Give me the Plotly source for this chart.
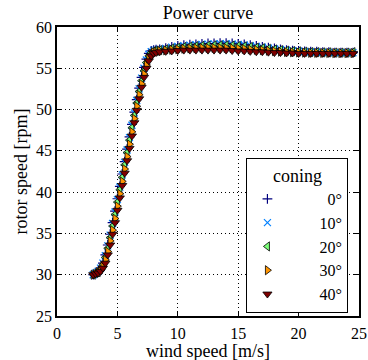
import plotly.graph_objects as go

# Wind speeds [m/s] of the operating points
wind = [3.0, 3.2, 3.4, 3.6, 3.8, 4.0, 4.2, 4.4, 4.6, 4.8, 5.0, 5.2, 5.4, 5.6, 5.8,
        6.0, 6.2, 6.4, 6.6, 6.8, 7.0, 7.2, 7.4, 7.6, 7.8, 8.0, 8.2,
        8.5, 9.0, 9.5, 10.0, 10.5, 11.0, 11.5, 12.0, 12.5, 13.0, 13.5, 14.0,
        14.5, 15.0, 15.5, 16.0, 16.5, 17.0, 17.5, 18.0, 18.5, 19.0, 19.5, 20.0,
        20.5, 21.0, 21.5, 22.0, 22.5, 23.0, 23.5, 24.0, 24.5]

# Rotor speed [rpm] for each coning angle
rpm_0 = [30.0, 30.2, 30.4, 30.8, 31.4, 32.4, 33.6, 34.9, 36.3, 37.7, 39.2, 40.7, 42.2, 43.7, 45.2,
         46.7, 48.2, 49.7, 51.2, 52.6, 53.9, 55.1, 56.1, 56.8, 57.1, 57.2, 57.25,
         57.3, 57.45, 57.6, 57.7, 57.8, 57.85, 57.9, 57.95, 58.0, 58.0, 58.05, 58.05,
         58.0, 57.95, 57.9, 57.8, 57.7, 57.6, 57.5, 57.4, 57.3, 57.2, 57.15, 57.1,
         57.05, 57.0, 57.0, 56.95, 56.95, 56.9, 56.9, 56.9, 56.9]
rpm_10 = [30.0, 30.2, 30.4, 30.8, 31.4, 32.3, 33.5, 34.8, 36.2, 37.6, 39.1, 40.6, 42.1, 43.6, 45.1,
          46.6, 48.1, 49.6, 51.1, 52.5, 53.8, 55.0, 56.0, 56.7, 57.0, 57.15, 57.2,
          57.28, 57.42, 57.56, 57.66, 57.75, 57.8, 57.85, 57.9, 57.93, 57.95, 57.97, 57.97,
          57.93, 57.88, 57.82, 57.73, 57.64, 57.55, 57.45, 57.36, 57.27, 57.18, 57.13, 57.08,
          57.03, 56.98, 56.97, 56.93, 56.93, 56.9, 56.9, 56.9, 56.9]
rpm_20 = [30.0, 30.2, 30.3, 30.7, 31.2, 32.1, 33.2, 34.5, 35.9, 37.3, 38.8, 40.3, 41.8, 43.3, 44.8,
          46.3, 47.8, 49.3, 50.8, 52.2, 53.5, 54.7, 55.7, 56.5, 56.9, 57.1, 57.15,
          57.2, 57.3, 57.4, 57.5, 57.58, 57.63, 57.68, 57.72, 57.75, 57.77, 57.78, 57.78,
          57.75, 57.7, 57.65, 57.58, 57.5, 57.43, 57.35, 57.28, 57.2, 57.13, 57.08, 57.04,
          57.0, 56.96, 56.95, 56.92, 56.92, 56.9, 56.9, 56.9, 56.95]
rpm_30 = [30.0, 30.1, 30.3, 30.5, 31.0, 31.8, 32.8, 34.1, 35.4, 36.8, 38.3, 39.8, 41.3, 42.8, 44.3,
          45.8, 47.3, 48.9, 50.4, 51.8, 53.1, 54.3, 55.4, 56.2, 56.7, 56.95, 57.0,
          57.1, 57.18, 57.25, 57.32, 57.38, 57.42, 57.45, 57.47, 57.48, 57.48, 57.48, 57.47,
          57.44, 57.4, 57.36, 57.3, 57.25, 57.2, 57.14, 57.08, 57.02, 56.98, 56.95, 56.92,
          56.9, 56.88, 56.87, 56.86, 56.86, 56.85, 56.85, 56.85, 56.85]
rpm_40 = [30.0, 30.1, 30.2, 30.4, 30.8, 31.4, 32.4, 33.6, 34.9, 36.3, 37.8, 39.3, 40.8, 42.3, 43.8,
          45.3, 46.8, 48.4, 49.9, 51.3, 52.7, 53.9, 55.0, 55.9, 56.5, 56.8, 56.9,
          57.0, 57.05, 57.1, 57.15, 57.2, 57.2, 57.2, 57.2, 57.2, 57.2, 57.2, 57.2,
          57.15, 57.1, 57.1, 57.05, 57.0, 57.0, 56.95, 56.9, 56.9, 56.85, 56.85, 56.8,
          56.8, 56.8, 56.8, 56.8, 56.8, 56.8, 56.8, 56.8, 56.8]

coning_labels = ["0°", "10°", "20°", "30°", "40°"]
series = [rpm_0, rpm_10, rpm_20, rpm_30, rpm_40]
colors = ["#00007f", "#0080ff", "#7cff79", "#ff9400", "#7f0000"]
symbols = ["cross-thin", "x-thin", "triangle-left", "triangle-right", "triangle-down"]
sizes = [7, 7, 8, 8, 8]

FONT = "Liberation Serif, DejaVu Serif, serif"
NB = "\u00a0"

fig = go.Figure()
for lab, rpm, col, sym, sz in zip(coning_labels, series, colors, symbols, sizes):
    thin = sym.endswith("-thin")
    # right-align the legend labels: a digit is as wide as two no-break spaces
    pad = NB * (8 + (2 if len(lab) == 2 else 0))
    fig.add_trace(go.Scatter(
        x=wind, y=rpm, mode="markers", name=pad + lab,
        marker=dict(symbol=sym, size=sz, color=col,
                    line=dict(color=col if thin else "black", width=1.2 if thin else 0.8)),
    ))

axis_common = dict(
    showline=True, linecolor="black", linewidth=1.5, mirror="ticks",
    ticks="inside", ticklen=5, tickcolor="black", tickwidth=1.2,
    showgrid=True, gridcolor="black", gridwidth=1, griddash="1px,3px",
    zeroline=False, automargin=False,
    tickfont=dict(family=FONT, size=16, color="black"),
)

fig.update_layout(
    width=368, height=360,
    margin=dict(l=57, r=9, t=27, b=44, autoexpand=False),
    paper_bgcolor="white", plot_bgcolor="white",
    font=dict(family=FONT, size=17, color="black"),
    title=dict(text="Power curve", x=0.565, xanchor="center", y=0.965, yanchor="middle",
               font=dict(family=FONT, size=18, color="black")),
    xaxis=dict(range=[0, 25], dtick=5, tick0=0, ticklabelstandoff=2, **axis_common),
    yaxis=dict(range=[25, 60], dtick=5, tick0=25,
               title=dict(text="rotor speed [rpm]", standoff=4, font=dict(size=18)),
               **axis_common),
    legend=dict(
        x=0.965, xanchor="right", y=0.012, yanchor="bottom",
        bgcolor="white", bordercolor="black", borderwidth=1,
        title=dict(text="coning", side="top center", font=dict(family=FONT, size=18)),
        font=dict(family=FONT, size=16, color="black"),
        itemwidth=30, tracegroupgap=0,
    ),
    annotations=[dict(
        text="wind speed [m/s]", xref="paper", yref="paper", x=0.5, y=0,
        xanchor="center", yanchor="top", yshift=-23, showarrow=False,
        font=dict(family=FONT, size=18, color="black"),
    )],
    showlegend=True,
)

fig.write_html("out.html")
